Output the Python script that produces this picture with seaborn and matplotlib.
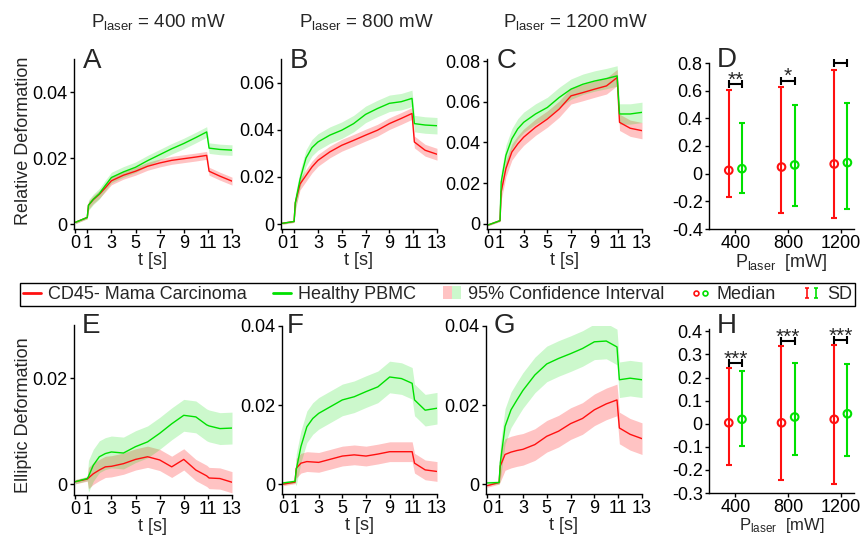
import numpy as np
import pandas as pd
import matplotlib
matplotlib.use("Agg")
import matplotlib.pyplot as plt
import seaborn as sns
from matplotlib.lines import Line2D
from matplotlib.patches import Patch
from matplotlib.path import Path
from matplotlib.legend_handler import HandlerTuple
from matplotlib.ticker import FuncFormatter

# ---- time courses ----
t_s = [0, 1, 1.1, 1.5, 2, 2.5, 3, 4, 5, 6, 7, 8, 9, 10, 10.9, 11.1, 12, 13]

rel_tumor_400 = [0.0005, 0.002, 0.0057, 0.0074, 0.009, 0.011, 0.0131, 0.0148, 0.016, 0.0175,
                 0.0185, 0.0193, 0.0198, 0.0203, 0.0208, 0.016, 0.0145, 0.013]
rel_pbmc_400 = [0.0005, 0.002, 0.0057, 0.0075, 0.0092, 0.0117, 0.0141, 0.0158, 0.0172, 0.0192,
                0.021, 0.0228, 0.0244, 0.0262, 0.0279, 0.023, 0.0226, 0.0224]
rel_tumor_800 = [0.0003, 0.0011, 0.009, 0.017, 0.0206, 0.0242, 0.027, 0.0306, 0.0334, 0.0355,
                 0.0377, 0.0398, 0.0426, 0.0448, 0.0469, 0.0348, 0.0313, 0.0296]
rel_pbmc_800 = [0.0003, 0.0011, 0.009, 0.019, 0.028, 0.0324, 0.0348, 0.0377, 0.0398, 0.0426,
                0.0465, 0.049, 0.0512, 0.0519, 0.0533, 0.0426, 0.042, 0.0417]
rel_tumor_1200 = [-0.0005, 0.0016, 0.0158, 0.0272, 0.0353, 0.0393, 0.0426, 0.0475, 0.0515, 0.0564,
                  0.0629, 0.0645, 0.0662, 0.0678, 0.0719, 0.0499, 0.047, 0.0458]
rel_pbmc_1200 = [-0.0005, 0.0016, 0.0206, 0.0337, 0.0418, 0.0467, 0.0499, 0.054, 0.0572, 0.0621,
                 0.0662, 0.0686, 0.0702, 0.0714, 0.0727, 0.054, 0.054, 0.0548]

ell_tumor_400 = [0.0005, 0.001, 0.0012, 0.002, 0.0027, 0.0033, 0.0034, 0.0039, 0.0047, 0.0052,
                 0.0046, 0.0033, 0.0047, 0.0027, 0.0016, 0.0012, 0.0011, 0.0004]
ell_pbmc_400 = [0.0005, 0.0011, 0.0015, 0.0036, 0.0052, 0.0058, 0.0061, 0.0059, 0.0071, 0.008,
                0.0096, 0.0114, 0.013, 0.0127, 0.0112, 0.011, 0.0105, 0.0106]
ell_tumor_800 = [0.0, 0.0005, 0.004, 0.0053, 0.0057, 0.0056, 0.0055, 0.0063, 0.0071, 0.0074,
                 0.0071, 0.0076, 0.0082, 0.0082, 0.0082, 0.0053, 0.0036, 0.0032]
ell_pbmc_800 = [0.0003, 0.0007, 0.0036, 0.0095, 0.0145, 0.0166, 0.0179, 0.0196, 0.0213, 0.0221,
                0.0234, 0.0246, 0.0271, 0.0267, 0.0255, 0.0213, 0.0187, 0.0192]
ell_tumor_1200 = [-0.0004, 0.0004, 0.0046, 0.0075, 0.0081, 0.0085, 0.0088, 0.01, 0.0121, 0.0134,
                  0.0153, 0.0166, 0.0188, 0.0203, 0.0213, 0.0142, 0.0126, 0.0115]
ell_pbmc_1200 = [0.0003, 0.0004, 0.0054, 0.0146, 0.0188, 0.0213, 0.0237, 0.0276, 0.0304, 0.0318,
                 0.033, 0.0343, 0.036, 0.0362, 0.0347, 0.0264, 0.0268, 0.0264]

# 95% CI half widths (400, 800, 1200 mW)
ci_rel_tumor = [0.0012, 0.0025, 0.004]
ci_rel_pbmc = [0.0016, 0.0035, 0.005]
ci_ell_tumor = [0.002, 0.0025, 0.004]
ci_ell_pbmc = [0.003, 0.004, 0.0045]

# ---- summary panels D / H ----
power_mw = [400, 800, 1200]
rel_med_tumor = [0.024, 0.048, 0.07]
rel_lo_tumor = [-0.166, -0.287, -0.318]
rel_hi_tumor = [0.607, 0.63, 0.752]
rel_med_pbmc = [0.036, 0.063, 0.08]
rel_lo_pbmc = [-0.137, -0.234, -0.258]
rel_hi_pbmc = [0.369, 0.497, 0.51]
rel_sig = ["**", "*", ""]
rel_sig_y = [0.648, 0.672, 0.8]

ell_med_tumor = [0.004, 0.004, 0.019]
ell_lo_tumor = [-0.179, -0.245, -0.26]
ell_hi_tumor = [0.239, 0.336, 0.339]
ell_med_pbmc = [0.019, 0.029, 0.043]
ell_lo_pbmc = [-0.097, -0.136, -0.14]
ell_hi_pbmc = [0.229, 0.264, 0.26]
ell_sig = ["***", "***", "***"]
ell_sig_y = [0.263, 0.357, 0.361]

RED = "#ff1010"
GREEN = "#00e000"

sns.set_style("ticks")
plt.rcParams["font.family"] = ["Liberation Sans", "DejaVu Sans"]
plt.rcParams["mathtext.fontset"] = "custom"
plt.rcParams["mathtext.rm"] = "Liberation Sans"
plt.rcParams["mathtext.it"] = "Liberation Sans:italic"
plt.rcParams["axes.unicode_minus"] = False

W, H = 862, 535
fig = plt.figure(figsize=(W / 100, H / 100), dpi=100)


def box(l, r, top, bot):
    return [l / W, 1 - bot / H, (r - l) / W, (bot - top) / H]


fmt = FuncFormatter(lambda v, p: f"{round(v, 4):g}")


def style_axis(ax):
    for s in ["top", "right"]:
        ax.spines[s].set_visible(False)
    for s in ["left", "bottom"]:
        ax.spines[s].set_linewidth(1.0)
        ax.spines[s].set_color("black")
    ax.tick_params(direction="out", length=3, width=1, labelsize=13, pad=1.5, colors="black")
    ax.yaxis.set_major_formatter(fmt)


def time_panel(ax, tumor, pbmc, ci_t, ci_p, ylim, yticks, letter, lx, ly):
    t = np.asarray(t_s)
    for vals, ci, col, a in [(tumor, ci_t, RED, 0.25), (pbmc, ci_p, GREEN, 0.2)]:
        v = np.asarray(vals)
        hw = np.where(t < 1.05, 0.0004, ci)
        ax.fill_between(t, v - hw, v + hw, color=col, alpha=a, lw=0)
    n = len(t_s)
    df = pd.DataFrame({"t": t_s * 2, "value": list(tumor) + list(pbmc),
                       "group": ["tumor"] * n + ["pbmc"] * n})
    sns.lineplot(data=df, x="t", y="value", hue="group", hue_order=["tumor", "pbmc"],
                 palette={"tumor": RED, "pbmc": GREEN}, legend=False, errorbar=None,
                 linewidth=1.0, ax=ax)
    ax.set_xlim(-0.1, 13)
    ax.set_xticks([0, 1, 3, 5, 7, 9, 11, 13])
    ax.set_ylim(*ylim)
    ax.set_yticks(yticks)
    ax.set_xlabel("t [s]", fontsize=13, labelpad=0)
    ax.set_ylabel("")
    style_axis(ax)
    ax.text(lx, ly, letter, transform=ax.transAxes, fontsize=20, va="baseline", ha="left")


def summary_panel(ax, med_t, lo_t, hi_t, med_p, lo_p, hi_p, sig, sig_y, ylim, yticks,
                  letter, ly, xpad, xfs):
    p = np.asarray(power_mw, dtype=float)
    for x, med, lo, hi, col in [(p - 50, med_t, lo_t, hi_t, RED), (p + 50, med_p, lo_p, hi_p, GREEN)]:
        med = np.asarray(med)
        yerr = [med - np.asarray(lo), np.asarray(hi) - med]
        ax.errorbar(x, med, yerr=yerr, fmt="none", ecolor=col, elinewidth=1.5,
                    capsize=2.5, capthick=1.5)
    sdf = pd.DataFrame({"x": list(p - 50) + list(p + 50), "y": list(med_t) + list(med_p),
                        "group": ["tumor"] * 3 + ["pbmc"] * 3})
    sns.scatterplot(data=sdf, x="x", y="y", hue="group", palette={"tumor": RED, "pbmc": GREEN},
                    marker="o", s=30, linewidth=1.5, legend=False, ax=ax)
    pts = ax.collections[-1]
    pts.set_facecolor("none")
    pts.set_edgecolor([RED] * 3 + [GREEN] * 3)
    for xc, s, yb in zip(p, sig, sig_y):
        ax.errorbar([xc], [yb], xerr=50, fmt="none", ecolor="black", elinewidth=1.5,
                    capsize=3, capthick=1.5, clip_on=False)
        if s:
            ax.annotate(s, xy=(xc, yb), xytext=(0, -1), textcoords="offset points",
                        ha="center", va="baseline", fontsize=15, annotation_clip=False)
    ax.set_xlim(200, 1300)
    ax.set_xticks(power_mw)
    ax.set_ylim(*ylim)
    ax.set_yticks(yticks)
    ax.set_xlabel(r"$\mathregular{P_{laser}}$  [mW]", fontsize=xfs, labelpad=xpad)
    ax.set_ylabel("")
    style_axis(ax)
    ax.text(0.055, ly, letter, transform=ax.transAxes, fontsize=20, va="baseline", ha="left")


# top row: relative deformation
axA = fig.add_axes(box(74, 232, 59, 229))
axB = fig.add_axes(box(281, 437, 59, 229))
axC = fig.add_axes(box(487, 642, 59, 229))
axD = fig.add_axes(box(709, 854, 63, 229))
# bottom row: elliptic deformation
axE = fig.add_axes(box(74, 232, 325, 495))
axF = fig.add_axes(box(282, 437, 326, 494))
axG = fig.add_axes(box(486, 642, 326, 494))
axH = fig.add_axes(box(709, 854, 329, 493))

time_panel(axA, rel_tumor_400, rel_pbmc_400, ci_rel_tumor[0], ci_rel_pbmc[0],
           (-0.0015, 0.05), [0, 0.02, 0.04], "A", 0.057, 0.947)
time_panel(axB, rel_tumor_800, rel_pbmc_800, ci_rel_tumor[1], ci_rel_pbmc[1],
           (-0.0021, 0.07), [0, 0.02, 0.04, 0.06], "B", 0.057, 0.947)
time_panel(axC, rel_tumor_1200, rel_pbmc_1200, ci_rel_tumor[2], ci_rel_pbmc[2],
           (-0.0025, 0.081), [0, 0.02, 0.04, 0.06, 0.08], "C", 0.06, 0.947)
time_panel(axE, ell_tumor_400, ell_pbmc_400, ci_ell_tumor[0], ci_ell_pbmc[0],
           (-0.002, 0.03), [0, 0.02], "E", 0.05, 0.953)
time_panel(axF, ell_tumor_800, ell_pbmc_800, ci_ell_tumor[1], ci_ell_pbmc[1],
           (-0.0025, 0.04), [0, 0.02, 0.04], "F", 0.03, 0.958)
time_panel(axG, ell_tumor_1200, ell_pbmc_1200, ci_ell_tumor[2], ci_ell_pbmc[2],
           (-0.0025, 0.04), [0, 0.02, 0.04], "G", 0.05, 0.958)

summary_panel(axD, rel_med_tumor, rel_lo_tumor, rel_hi_tumor, rel_med_pbmc, rel_lo_pbmc,
              rel_hi_pbmc, rel_sig, rel_sig_y, (-0.4, 0.8), np.round(np.arange(-0.4, 0.81, 0.2), 1),
              "D", 0.976, 0, 13)
summary_panel(axH, ell_med_tumor, ell_lo_tumor, ell_hi_tumor, ell_med_pbmc, ell_lo_pbmc,
              ell_hi_pbmc, ell_sig, ell_sig_y, (-0.3, 0.41), np.round(np.arange(-0.3, 0.41, 0.1), 1),
              "H", 0.975, -0.5, 12)

# column titles
for xc, lab in [(158, "400"), (366, "800"), (576, "1200")]:
    fig.text(xc / W, 1 - 27 / H, r"$\mathregular{P_{laser}}$ = " + lab + " mW",
             ha="center", va="baseline", fontsize=13.5)

# row labels
fig.text(24 / W, 1 - 141 / H, "Relative Deformation", rotation=90, ha="center", va="center", fontsize=13)
fig.text(24 / W, 1 - 415 / H, "Elliptic Deformation", rotation=90, ha="center", va="center", fontsize=13)

# shared legend
sd_path = Path([(-0.5, -1), (0.5, -1), (0, -1), (0, 1), (-0.5, 1), (0.5, 1)],
               [Path.MOVETO, Path.LINETO, Path.MOVETO, Path.LINETO, Path.MOVETO, Path.LINETO])
handles = [
    Line2D([], [], color=RED, lw=2),
    Line2D([], [], color=GREEN, lw=2),
    (Patch(facecolor=RED, alpha=0.25, edgecolor="none"), Patch(facecolor=GREEN, alpha=0.2, edgecolor="none")),
    (Line2D([], [], ls="none", marker="o", mfc="none", mec=RED, ms=3.5, mew=1.2),
     Line2D([], [], ls="none", marker="o", mfc="none", mec=GREEN, ms=3.5, mew=1.2)),
    (Line2D([], [], ls="none", marker=sd_path, mfc="none", mec=RED, ms=7, mew=1.2),
     Line2D([], [], ls="none", marker=sd_path, mfc="none", mec=GREEN, ms=7, mew=1.2)),
]
labels = ["CD45- Mama Carcinoma", "Healthy PBMC", "95% Confidence Interval", "Median", "SD"]
leg = fig.legend(handles, labels, loc="center", bbox_to_anchor=(20 / W, 1 - 306 / H, 835 / W, 23 / H),
                 mode="expand", ncol=5, handler_map={tuple: HandlerTuple(ndivide=None, pad=0)},
                 frameon=True, fancybox=False, edgecolor="black", framealpha=1, borderaxespad=0,
                 handlelength=1.0, handletextpad=0.4, fontsize=13, borderpad=0.15)
leg.get_frame().set_linewidth(1.0)

fig.savefig("out.png", dpi=100)
